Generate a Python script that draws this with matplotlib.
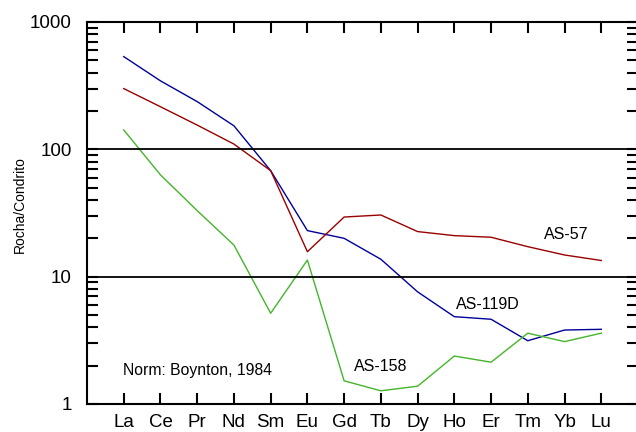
import matplotlib
matplotlib.use("Agg")
import matplotlib.pyplot as plt
from matplotlib.ticker import LogLocator, NullFormatter, FixedLocator

plt.rcParams['font.family'] = ['Liberation Sans', 'DejaVu Sans']

elements = ["La", "Ce", "Pr", "Nd", "Sm", "Eu", "Gd", "Tb", "Dy", "Ho", "Er", "Tm", "Yb", "Lu"]
as_119d = [535, 345, 237, 153, 68, 23, 20, 13.7, 7.6, 4.85, 4.63, 3.14, 3.81, 3.86]
as_57 = [300, 216, 155, 110, 68, 15.7, 29.4, 30.5, 22.6, 21, 20.4, 17.2, 14.8, 13.4]
as_158 = [142, 63, 33, 17.7, 5.16, 13.5, 1.52, 1.27, 1.38, 2.38, 2.13, 3.6, 3.09, 3.6]
y_ticks = [1, 10, 100, 1000]

fig = plt.figure(figsize=(6.36, 4.32), dpi=100)
# axes box in pixels: left 87, right ~638, top 22, bottom 404
ax = fig.add_axes([87 / 636, 1 - 404 / 432, 551 / 636, 382 / 432])

x = list(range(len(elements)))
ax.plot(x, as_119d, color="#000099", lw=1.0)
ax.plot(x, as_57, color="#990000", lw=1.0)
ax.plot(x, as_158, color="#44b52a", lw=1.0)

for v in (10, 100):
    ax.axhline(v, color="black", lw=1.3)

ax.set_yscale("log")
ax.set_ylim(1, 1000)
ax.set_xlim(-1, 14)

ax.set_xticks(x)
ax.set_xticklabels(elements, fontsize=13.5)
ax.yaxis.set_major_locator(FixedLocator(y_ticks))
ax.set_yticklabels([str(v) for v in y_ticks], fontsize=13.5)
ax.yaxis.set_minor_locator(LogLocator(base=10, subs=range(2, 10)))
ax.yaxis.set_minor_formatter(NullFormatter())

ax.tick_params(axis="both", which="both", direction="in", top=True, right=True,
               width=1.5, length=8)
ax.tick_params(axis="x", pad=7)
ax.tick_params(axis="y", pad=11)
for s in ax.spines.values():
    s.set_linewidth(1.5)

ax.set_ylabel("Rocha/Condrito", fontsize=10)
ax.yaxis.set_label_coords(-60 / 551, 199.5 / 382)

ax.text(12.05, 21.3, "AS-57", fontsize=11.5, ha="center", va="center")
ax.text(9.92, 6.0, "AS-119D", fontsize=11.5, ha="center", va="center")
ax.text(6.99, 1.96, "AS-158", fontsize=11.5, ha="center", va="center")
ax.text(-0.03, 1.83, "Norm: Boynton, 1984", fontsize=11.3, ha="left", va="center")

plt.savefig("out.png", dpi=100)
